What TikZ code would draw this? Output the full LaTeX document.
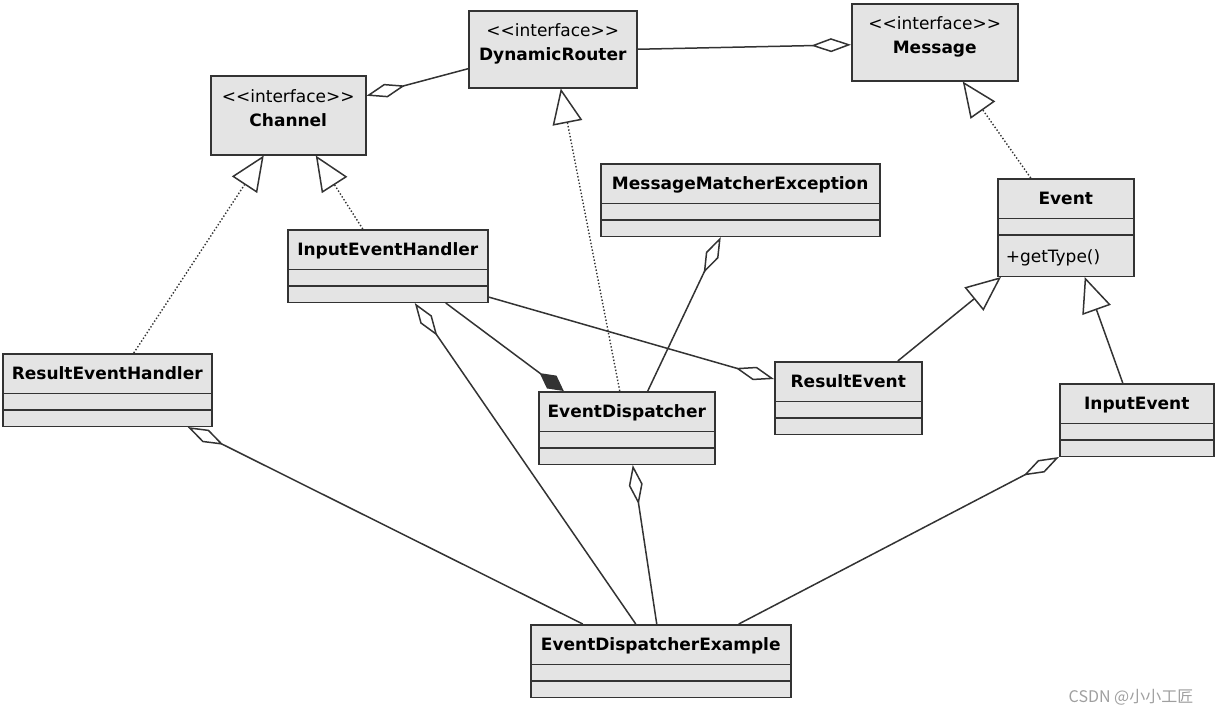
\documentclass[tikz,border=0pt]{standalone}
\usepackage{fontspec}
\setmainfont{DejaVu Sans}
\newfontfamily\cjk{Noto Sans CJK SC}
\usetikzlibrary{shapes.multipart, arrows.meta}
\definecolor{umlline}{HTML}{333333}
\definecolor{umlfill}{HTML}{E4E4E4}
\newcommand{\clshead}{\rule[-13pt]{0pt}{38pt}}
\newcommand{\clsrow}{\rule[-7.5pt]{0pt}{15pt}}
\tikzstyle{iface} = [rectangle, draw=umlline, fill=umlfill, line width=1.5pt, align=center, inner sep=0pt, anchor=north west]
\tikzstyle{cls} = [rectangle split, rectangle split parts=3, rectangle split part align={center,left,left}, draw=umlline, fill=umlfill, line width=1.5pt, inner ysep=0pt, inner xsep=8pt, anchor=north west]
\tikzstyle{agg} = [-{Diamond[open, length=40pt, width=14pt, line width=1.5pt]}, line width=1.5pt, draw=umlline]
\tikzstyle{comp} = [-{Diamond[length=30pt, width=16pt, fill=umlline]}, line width=1.5pt, draw=umlline]
\tikzstyle{gen} = [-{Triangle[open, length=35pt, width=30pt, line width=1.5pt]}, line width=1.5pt, draw=umlline]
\tikzstyle{impl} = [gen, line width=1.4pt, dotted]

\begin{document}
\begin{tikzpicture}[x=1pt, y=-1pt, font=\fontsize{17}{24}\selectfont]
	\useasboundingbox (0,0) rectangle (1215,716);
	% interfaces
	\node (router) [iface, minimum width=168pt, minimum height=77pt] at (468,10) {\rule{0pt}{26pt}<{}<interface>{}>\\\textbf{DynamicRouter}\rule[-27pt]{0pt}{27pt}};
	\node (msg) [iface, minimum width=166pt, minimum height=77pt] at (851,3) {\rule{0pt}{26pt}<{}<interface>{}>\\\textbf{Message}\rule[-27pt]{0pt}{27pt}};
	\node (chan) [iface, minimum width=155pt, minimum height=79pt] at (210,75) {\rule{0pt}{26pt}<{}<interface>{}>\\\textbf{Channel}\rule[-27pt]{0pt}{27pt}};
	% classes
	\node (mme) [cls, minimum width=279pt] at (600,163) {\clshead\textbf{MessageMatcherException}\nodepart{two}\clsrow\nodepart{three}\clsrow};
	\node (event) [cls, minimum width=136pt] at (997,178) {\clshead\textbf{Event}\nodepart{two}\clsrow\nodepart{three}\rule[-13pt]{0pt}{40pt}+getType()};
	\node (ieh) [cls, minimum width=200pt] at (287,229) {\clshead\textbf{InputEventHandler}\nodepart{two}\clsrow\nodepart{three}\clsrow};
	\node (reh) [cls, minimum width=209pt] at (2,353) {\clshead\textbf{ResultEventHandler}\nodepart{two}\clsrow\nodepart{three}\clsrow};
	\node (disp) [cls, minimum width=176pt] at (538,391) {\clshead\textbf{EventDispatcher}\nodepart{two}\clsrow\nodepart{three}\clsrow};
	\node (revt) [cls, minimum width=147pt] at (774,361) {\clshead\textbf{ResultEvent}\nodepart{two}\clsrow\nodepart{three}\clsrow};
	\node (ievt) [cls, minimum width=154pt] at (1059,383) {\clshead\textbf{InputEvent}\nodepart{two}\clsrow\nodepart{three}\clsrow};
	\node (ede) [cls, minimum width=260pt] at (530,624) {\clshead\textbf{EventDispatcherExample}\nodepart{two}\clsrow\nodepart{three}\clsrow};
	\node (mark) [font=\cjk\fontsize{16}{18}\selectfont, text=gray!75] at (1131,697) {CSDN @小小工匠};

	% aggregation
	\draw [agg]([yshift=-19.5pt]router.west) -- ([yshift=19.5pt]chan.east);
	\draw [agg](router.east) -- ([yshift=-2.5pt]msg.west);
	\draw [agg]([xshift=21pt]disp.north) -- ([xshift=-19.5pt]mme.south);
	\draw [agg]([yshift=-31pt]ieh.east) -- ([yshift=19pt]revt.west);
	\draw [agg]([xshift=-25pt]ede.north) -- ([xshift=27pt]ieh.south);
	\draw [agg]([xshift=-78pt]ede.north) -- ([xshift=80.5pt]reh.south);
	\draw [agg]([xshift=-4pt]ede.north) -- ([xshift=6pt]disp.south);
	\draw [agg]([xshift=78pt]ede.north) -- (ievt.south west);
	% composition
	\draw [comp]([xshift=58pt]ieh.south) -- ([xshift=-63pt]disp.north);
	% realization and inheritance
	\draw [impl]([xshift=26.5pt]reh.north) -- ([xshift=-24.5pt]chan.south);
	\draw [impl]([xshift=-25pt]ieh.north) -- ([xshift=27.5pt]chan.south);
	\draw [impl]([xshift=-7pt]disp.north) -- ([xshift=8pt]router.south);
	\draw [impl]([xshift=-35pt]event.north) -- ([xshift=28pt]msg.south);
	\draw [gen]([xshift=49.5pt]revt.north) -- ([xshift=4pt]event.south west);
	\draw [gen]([xshift=-14pt]ievt.north) -- ([xshift=19pt]event.south);
\end{tikzpicture}
\end{document}
